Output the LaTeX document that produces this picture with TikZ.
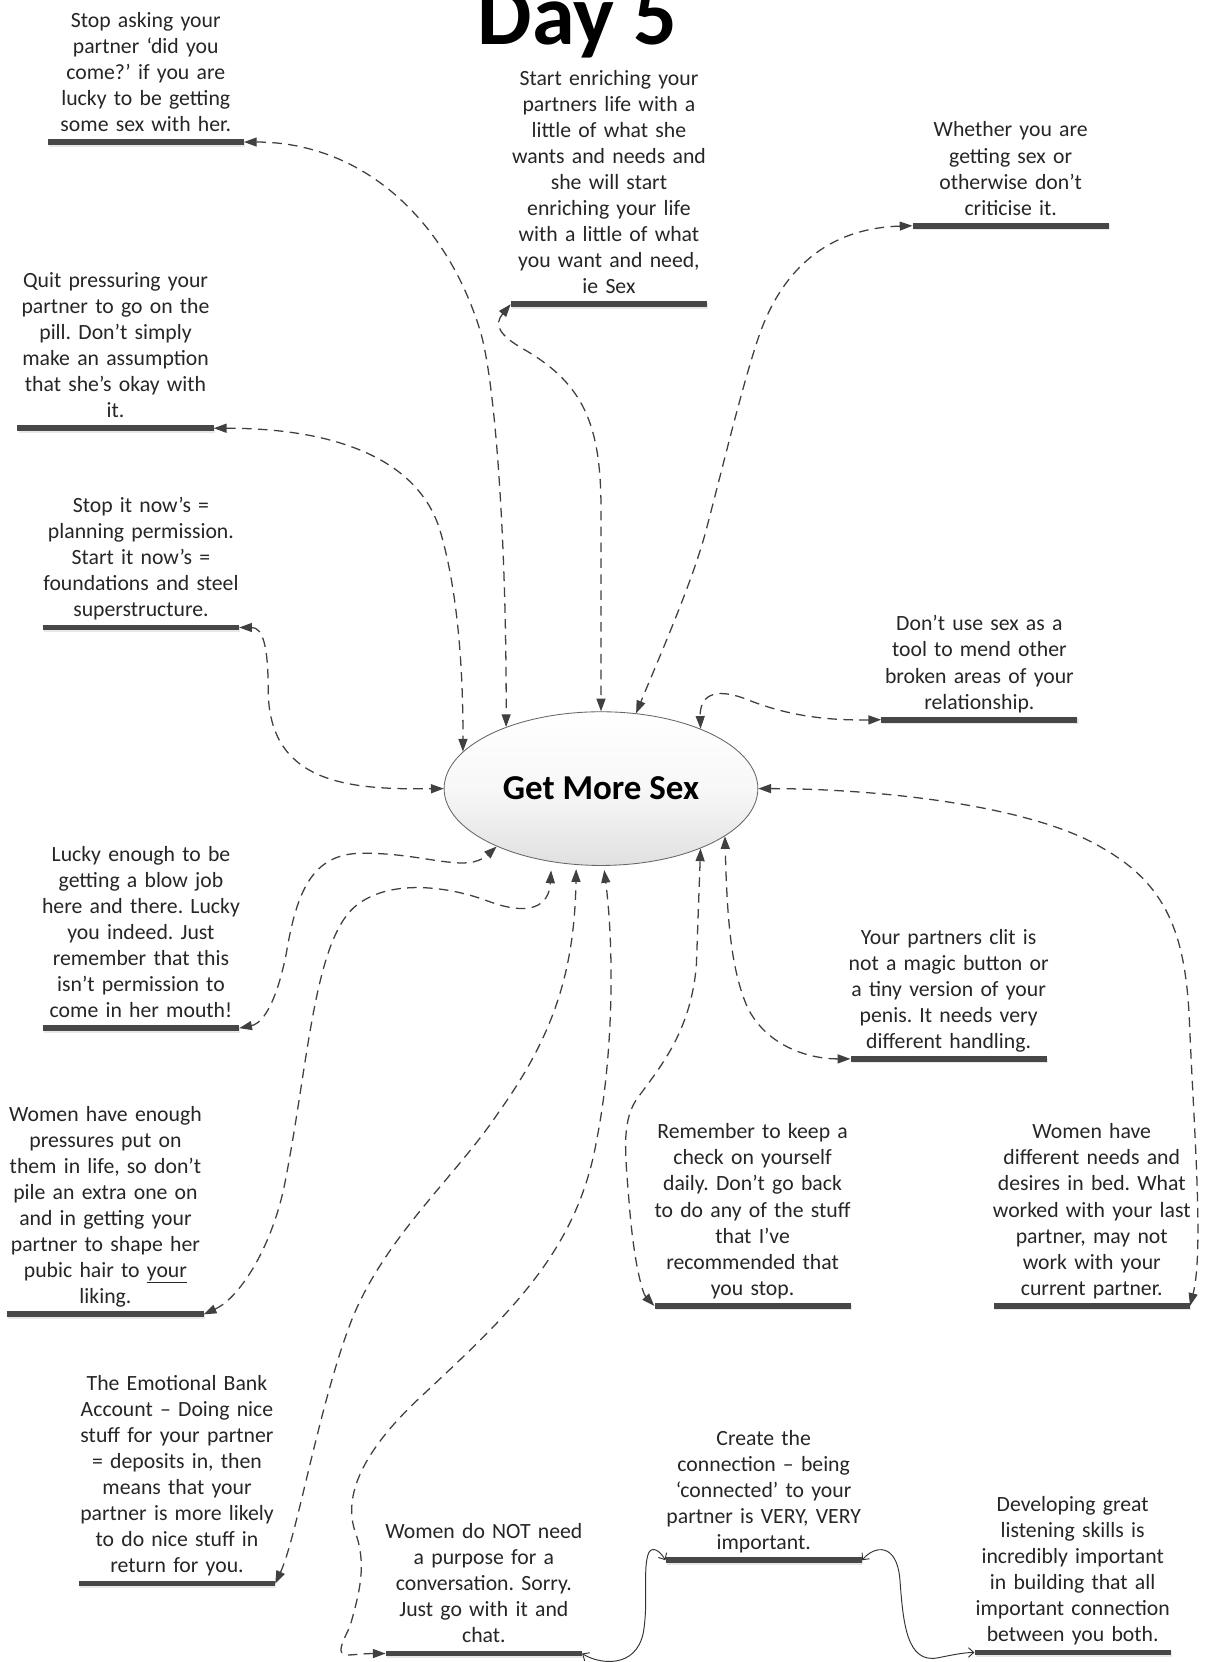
\documentclass[tikz,border=0pt]{standalone}
\usepackage{fontspec}
\setmainfont{Carlito}
\frenchspacing
\usetikzlibrary{shapes.geometric,arrows.meta,shadows}

\begin{document}
\begin{tikzpicture}[x=1pt, y=-1pt,
        note/.style={anchor=base, text width=240pt, align=center, inner sep=0pt, text=black!85, font=\fontsize{20.5}{24.6}\selectfont},
        underbar/.style={rectangle, fill=black!72, minimum width=185pt, minimum height=5.5pt, inner sep=0pt, drop shadow={opacity=0.18, shadow xshift=1pt, shadow yshift=-1.5pt}},
        core/.style={ellipse, draw=black!60, line width=0.8pt, minimum width=296pt, minimum height=145pt, top color=white, bottom color=black!12, middle color=black!3, font=\fontsize{33}{40}\selectfont\bfseries},
        link/.style={draw=black!75, line width=1.2pt, dash pattern=on 9pt off 6pt, {Triangle[length=12pt,width=8.5pt]}-{Triangle[length=12pt,width=8.5pt]}},
        tie/.style={draw=black!80, line width=0.9pt, {Straight Barb[length=5pt,width=9pt]}-{Straight Barb[length=5pt,width=9pt]}}]
            \fill[white] (0,0) rectangle (1138,1568);
            \useasboundingbox (0,0) rectangle (1138,1568);

            \node[anchor=base, font=\fontsize{81.5}{90}\selectfont\bfseries] (title) at (545,42) {Day 5};
            \node[core] (core) at (567,744) {Get More Sex};

            \node[underbar] (askbar) at (137.5,134) {};
            \node[note] (ask) at (137.5,25.6) {Stop asking your\\partner ‘did you\\come?’ if you are\\lucky to be getting\\some sex with her.};
            \node[underbar] (pillbar) at (109,404) {};
            \node[note] (pill) at (109,271) {Quit pressuring your\\partner to go on the\\pill. Don’t simply\\make an assumption\\that she’s okay with\\it.};
            \node[underbar] (planbar) at (133,592) {};
            \node[note] (plan) at (133,483.6) {Stop it now’s =\\planning permission.\\Start it now’s =\\foundations and steel\\superstructure.};
            \node[underbar] (enrichbar) at (574.5,287) {};
            \node[note] (enrich) at (574.5,80.2) {Start enriching your\\partners life with a\\little of what she\\wants and needs and\\she will start\\enriching your life\\with a little of what\\you want and need,\\ie Sex};
            \node[underbar] (judgebar) at (953.5,213) {};
            \node[note] (judge) at (953.5,129.2) {Whether you are\\getting sex or\\otherwise don’t\\criticise it.};
            \node[underbar] (mendbar) at (924,679) {};
            \node[note] (mend) at (924,595.2) {Don’t use sex as a\\tool to mend other\\broken areas of your\\relationship.};
            \node[underbar] (blowbar) at (133,970) {};
            \node[note] (blow) at (133,812.4) {Lucky enough to be\\getting a blow job\\here and there. Lucky\\you indeed. Just\\remember that this\\isn’t permission to\\come in her mouth!};
            \node[underbar] (hairbar) at (99.5,1240) {};
            \node[note] (hair) at (99.5,1057.8) {Women have enough\\pressures put on\\them in life, so don’t\\pile an extra one on\\and in getting your\\partner to shape her\\pubic hair to \underline{your}\\liking.};
            \node[underbar] (bankbar) at (167,1494) {};
            \node[note] (bank) at (167,1311.8) {The Emotional Bank\\Account – Doing nice\\stuff for your partner\\= deposits in, then\\means that your\\partner is more likely\\to do nice stuff in\\return for you.};
            \node[underbar] (chatbar) at (456.5,1560) {};
            \node[note] (chat) at (456.5,1451.6) {Women do NOT need\\a purpose for a\\conversation. Sorry.\\Just go with it and\\chat.};
            \node[underbar] (checkbar) at (710,1232) {};
            \node[note] (check) at (710,1074.4) {Remember to keep a\\check on yourself\\daily. Don’t go back\\to do any of the stuff\\that I’ve\\recommended that\\you stop.};
            \node[underbar] (clitbar) at (895,999) {};
            \node[note] (clit) at (895,890.6) {Your partners clit is\\not a magic button or\\a tiny version of your\\penis. It needs very\\different handling.};
            \node[underbar] (needsbar) at (1030,1232) {};
            \node[note] (needs) at (1030,1074.4) {Women have\\different needs and\\desires in bed. What\\worked with your last\\partner, may not\\work with your\\current partner.};
            \node[underbar] (connectbar) at (720.5,1472) {};
            \node[note] (connect) at (720.5,1363.6) {Create the\\connection – being\\‘connected’ to your\\partner is VERY, VERY\\important.};
            \node[underbar] (listenbar) at (1012,1559) {};
            \node[note] (listen) at (1012,1426) {Developing great\\listening skills is\\incredibly important\\in building that all\\important connection\\between you both.};

            \draw[link] (askbar.east) .. controls (340,134) and (420,205) .. (453,312) .. controls (468,362) and (478,520) .. (core.147);
            \draw[link] (pillbar.east) .. controls (320,404) and (395,435) .. (415,500) .. controls (430,550) and (437,620) .. (core.165);
            \draw[link] (planbar.east) .. controls (248,592) and (253,610) .. (253,650) .. controls (253,740) and (330,745) .. (core.180);
            \draw[link] (enrichbar.west) .. controls (466,306) and (470,316) .. (495,330) .. controls (550,362) and (567,400) .. (567,480) -- (core.90);
            \draw[link] (judgebar.west) .. controls (790,215) and (740,245) .. (715,320) .. controls (700,365) and (682,440) .. (667,497) .. controls (655,545) and (622,620) .. (core.65);
            \draw[link] (mendbar.west) .. controls (770,680) and (735,672) .. (705,660) .. controls (680,650) and (660,652) .. (core.31);
            \draw[link] (blowbar.east) .. controls (250,965) and (262,940) .. (270,900) .. controls (280,840) and (295,806) .. (340,805) .. controls (400,804) and (440,825) .. (core.209);
            \draw[link, shorten >=8pt] (hairbar.east) .. controls (225,1225) and (255,1180) .. (268,1120) .. controls (290,1010) and (295,900) .. (330,860) .. controls (360,828) and (420,835) .. (460,850) .. controls (500,865) and (518,855) .. (core.236);
            \draw[link, shorten >=4pt] (bankbar.east) .. controls (280,1450) and (300,1330) .. (330,1250) .. controls (360,1170) and (430,1110) .. (470,1050) .. controls (520,980) and (542,920) .. (core.252);
            \draw[link, shorten >=4pt] (chatbar.west) .. controls (325,1560) and (312,1570) .. (330,1535) .. controls (340,1500) and (346,1475) .. (335,1445) .. controls (324,1412) and (340,1370) .. (400,1315) .. controls (480,1240) and (545,1180) .. (563,1075) .. controls (578,1000) and (580,900) .. (core.272);
            \draw[link] (checkbar.west) .. controls (606,1220) and (598,1190) .. (594,1140) .. controls (590,1090) and (586,1060) .. (600,1038) .. controls (620,1010) and (652,975) .. (657,910) -- (core.329);
            \draw[link] (clitbar.west) .. controls (760,999) and (722,985) .. (705,950) .. controls (690,915) and (686,870) .. (core.339);
            \draw[link] (core.0) .. controls (820,744) and (970,758) .. (1040,800) .. controls (1100,834) and (1118,880) .. (1122,960) .. controls (1126,1060) and (1136,1180) .. (needsbar.east);

            \draw[tie] (chatbar.east) .. controls (565,1570) and (600,1575) .. (607,1540) .. controls (612,1510) and (606,1480) .. (612,1465) .. controls (615,1459) and (622,1462) .. (connectbar.west);
            \draw[tie] (connectbar.east) .. controls (825,1458) and (846,1455) .. (849,1490) .. controls (852,1530) and (855,1570) .. (885,1564) .. controls (900,1561) and (910,1559) .. (listenbar.west);
\end{tikzpicture}
\end{document}
